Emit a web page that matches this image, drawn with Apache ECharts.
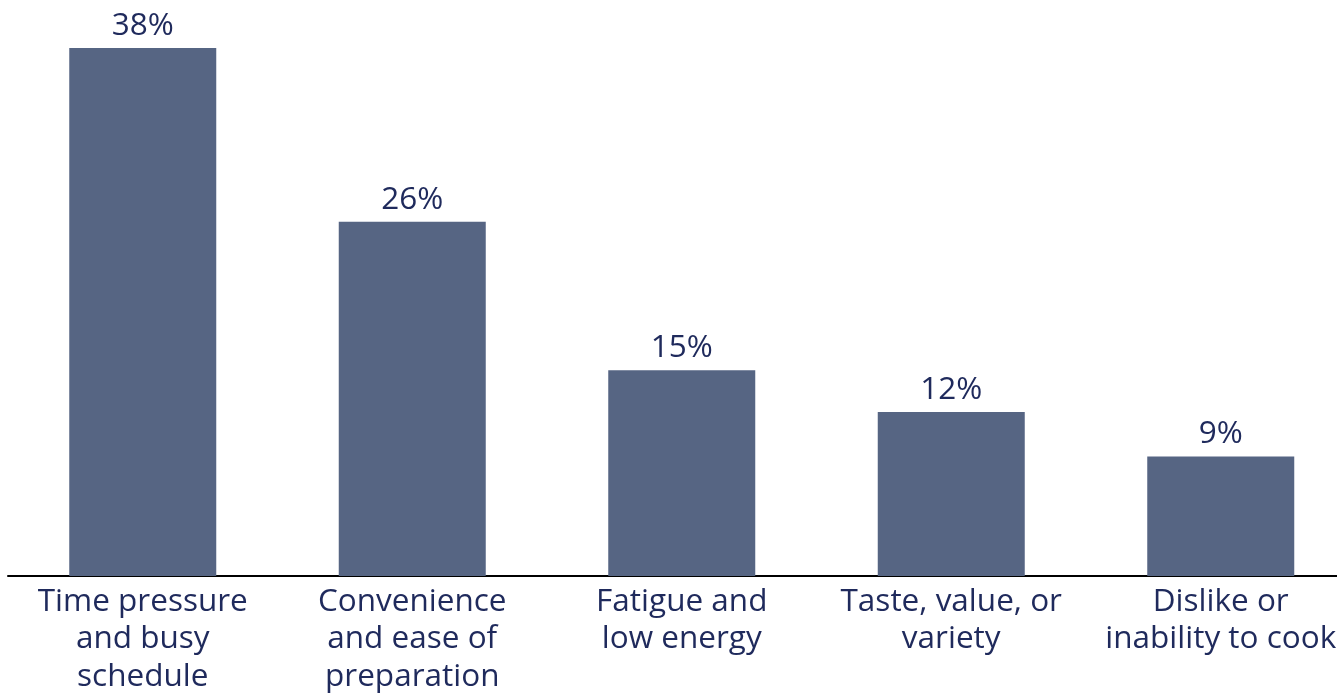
<!DOCTYPE html>
<html>
<head>
<meta charset="utf-8">
<script src="https://cdn.jsdelivr.net/npm/echarts@6/dist/echarts.min.js"></script>
<style>
  html, body { margin: 0; padding: 0; background: #fff; }
  #chart { width: 1337px; height: 694px; }
</style>
</head>
<body>
<div id="chart"></div>
<script>
// reasons for choosing ready meals
const categories = [
  'Time pressure\nand busy\nschedule',
  'Convenience\nand ease of\npreparation',
  'Fatigue and\nlow energy',
  'Taste, value, or\nvariety',
  'Dislike or\ninability to cook'
]
const shares = [38, 25.5, 14.8, 11.8, 8.6]

const textColor = '#1f2a5c'
const barColor = '#566583'

const chart = echarts.init(document.getElementById('chart'))
chart.setOption({
  animation: false,
  grid: { left: 8, width: 1347.5, top: 48, bottom: 118, outerBoundsMode: 'none' },
  xAxis: {
    type: 'category',
    data: categories,
    axisLine: { lineStyle: { color: '#000', width: 2 } },
    axisTick: { show: false },
    axisLabel: {
      color: textColor,
      fontFamily: 'Open Sans',
      fontSize: 31.5,
      lineHeight: 37.5,
      margin: 7,
      interval: 0
    }
  },
  yAxis: {
    type: 'value',
    min: 0,
    max: 38,
    show: false
  },
  series: [{
    type: 'bar',
    data: shares,
    barWidth: 147,
    itemStyle: { color: barColor },
    label: {
      show: true,
      position: 'top',
      distance: 6,
      color: textColor,
      fontFamily: 'Open Sans',
      fontSize: 31.5,
      formatter: p => Math.round(p.value) + '%'
    }
  }]
})
</script>
</body>
</html>
